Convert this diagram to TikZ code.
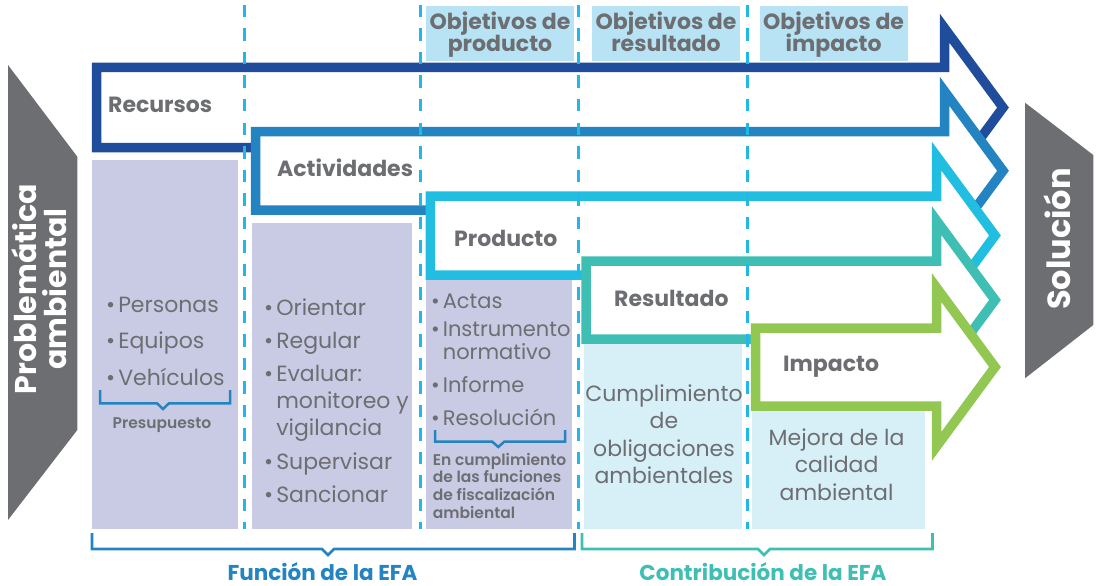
\documentclass[tikz,border=0pt]{standalone}
\usepackage{fontspec}
\setmainfont{Poppins}
\newfontfamily\medio{Poppins SemiBold}
\definecolor{gris}{HTML}{6D6E71}
\definecolor{azulosc}{HTML}{1F4D9B}
\definecolor{azulmed}{HTML}{2384C1}
\definecolor{celeste}{HTML}{22BEE2}
\definecolor{turquesa}{HTML}{3FBFB4}
\definecolor{verde}{HTML}{92C852}
\definecolor{lila}{HTML}{C9CAE4}
\definecolor{celclaro}{HTML}{D7EFF7}
\definecolor{celcab}{HTML}{B8E3F4}
\definecolor{guion}{HTML}{22B8E6}
\begin{document}
\begin{tikzpicture}[x=1pt,y=-1pt,
		flecha/.style={line width=9.5pt,line join=miter,fill=white},
		etiqueta/.style={text=gris,font=\fontsize{22}{26}\selectfont\bfseries,inner sep=0pt,anchor=base west},
		texto/.style={text=gris,font=\fontsize{22}{26}\selectfont,inner sep=0pt,anchor=base west},
		centrado/.style={texto,anchor=base},
		nota/.style={text=gris,font=\fontsize{15.5}{17}\selectfont\medio,inner sep=0pt,anchor=base west},
		cabecera/.style={text=gris,font=\fontsize{22}{22}\selectfont\bfseries,inner sep=0pt,anchor=base},
		lado/.style={text=white,font=\fontsize{30}{30}\selectfont\bfseries,inner sep=0pt,anchor=base,rotate=90},
		llave/.style={line width=2.5pt,line join=miter},
		pie/.style={font=\fontsize{21.5}{24}\selectfont\bfseries,inner sep=0pt,anchor=base}]
	\useasboundingbox (0,0) rectangle (1096,586);
	\def\vineta{\textbullet\hspace{3pt}}
	\def\sangria{\hphantom{\textbullet\hspace{3pt}}}
	
	% Problematica y solucion
	\fill[gris] (8,65) -- (77.3,156.7) -- (77.3,430) -- (8,520) -- cycle;
	\node[lado] (problema) at (36.7,289) {Problemática};
	\node[lado] (problema2) at (66.7,289) {ambiental};
	\fill[gris] (1025,102.7) -- (1093.3,155) -- (1093.3,325) -- (1025,378.3) -- cycle;
	\node[lado,font=\fontsize{32}{32}\selectfont\bfseries] (solucion) at (1070,239) {Solución};
	
	% Objetivos
	\foreach \x/\xa/\xb/\t [count=\i] in {500/426.3/573.7/producto,666/592.2/740/resultado,833.6/759.5/907.7/impacto}{
		\fill[celcab] (\xa,6) rectangle (\xb,60.7);
		\node[cabecera] (obj\i) at (\x,30) {Objetivos de};
		\node[cabecera] (tipo\i) at (\x,51.7) {\t};
	}
	
	% Cajas
	\fill[lila] (92,160) rectangle (237.5,529);
	\fill[lila] (251.6,223) rectangle (412,529);
	\fill[lila] (426,280) rectangle (572,529);
	\fill[celclaro] (584,344) rectangle (741.7,529);
	\fill[celclaro] (752,410.7) rectangle (925.4,529);
	
	% Flechas
	\foreach \xl/\yt/\yb/\xb/\col in {96.7/67.5/147.7/944.5/azulosc,
		255.7/131.5/210/944.5/azulmed,
		430.3/196/275/936.5/celeste,
		586/261/339/936.5/turquesa,
		755.5/328/406/936.5/verde}{
		\pgfmathsetmacro\cy{(\yt+\yb)/2}
		\draw[flecha,draw=\col] (\xl,\yt) -- (\xb,\yt) -- (\xb,\cy-79.5) -- (\xb+58.5,\cy)
			-- (\xb,\cy+79.5) -- (\xb,\yb) -- (\xl,\yb) -- cycle;
	}
	\node[etiqueta] (recursos) at (108,112.7) {Recursos};
	\node[etiqueta] (actividades) at (277,176.7) {Actividades};
	\node[etiqueta] (producto) at (454,246.7) {Producto};
	\node[etiqueta] (resultado) at (614,306.7) {Resultado};
	\node[etiqueta] (impacto) at (783,371.7) {Impacto};
	
	% Recursos
	\foreach \t/\y [count=\i] in {Personas/312.5,Equipos/348.8,Vehículos/385}
		\node[texto] (rec\i) at (106,\y) {\vineta\t};
	\draw[llave,azulmed] (100,390) -- (100,403.3) -- (157,403.3) -- (163,409) -- (169,403.3) -- (230,403.3) -- (230,390);
	\node[nota,anchor=base] (presupuesto) at (162,428.3) {Presupuesto};
	
	% Actividades
	\foreach \t/\y [count=\i] in {\vineta Orientar/315,\vineta Regular/348.3,\vineta Evaluar:/381.6,
		\sangria monitoreo y/408.6,\sangria vigilancia/435.6,\vineta Supervisar/469,\vineta Sancionar/502.3}
		\node[texto] (act\i) at (264,\y) {\t};
	
	% Producto
	\foreach \t/\y [count=\i] in {\vineta Actas/308.3,\vineta Instrumento/336.7,\sangria normativo/359,
		\vineta Informe/392.3,\vineta Resolución/425}
		\node[texto,font=\fontsize{21}{24}\selectfont] (prod\i) at (431,\y) {\t};
	\draw[llave,azulmed] (435,430) -- (435,441.7) -- (492.3,441.7) -- (498.3,447) -- (504.3,441.7) -- (565,441.7) -- (565,430);
	\foreach \t/\y [count=\i] in {En cumplimiento/465,de las funciones/482.7,de fiscalización/500.4,ambiental/518.1}
		\node[nota] (fun\i) at (432.7,\y) {\t};
	
	% Resultado
	\foreach \t/\y [count=\i] in {Cumplimiento/401.7,de/428.9,obligaciones/456.1,ambientales/483.3}
		\node[centrado] (res\i) at (664,\y) {\t};
	
	% Impacto
	\foreach \t/\y [count=\i] in {Mejora de la/445.7,calidad/472.9,ambiental/500.1}
		\node[centrado] (imp\i) at (836.6,\y) {\t};
	
	% Lineas de corte
	\foreach \x in {244,420,578.5,747.5}
		\draw[guion,line width=3pt,dash pattern=on 12.5pt off 11pt] (\x,5) -- (\x,529);
	
	% Funcion y contribucion
	\draw[llave,line width=2.8pt,azulmed] (92,533) -- (92,549) -- (322,549) -- (328,555) -- (334,549) -- (574.5,549) -- (574.5,533);
	\node[pie,text=azulmed] (funcion) at (322.5,580) {Función de la EFA};
	\draw[llave,line width=2.8pt,turquesa] (582,533) -- (582,549) -- (758,549) -- (764,555) -- (770,549) -- (932.5,549) -- (932.5,533);
	\node[pie,text=turquesa] (contribucion) at (763,580) {Contribución de la EFA};
\end{tikzpicture}
\end{document}
